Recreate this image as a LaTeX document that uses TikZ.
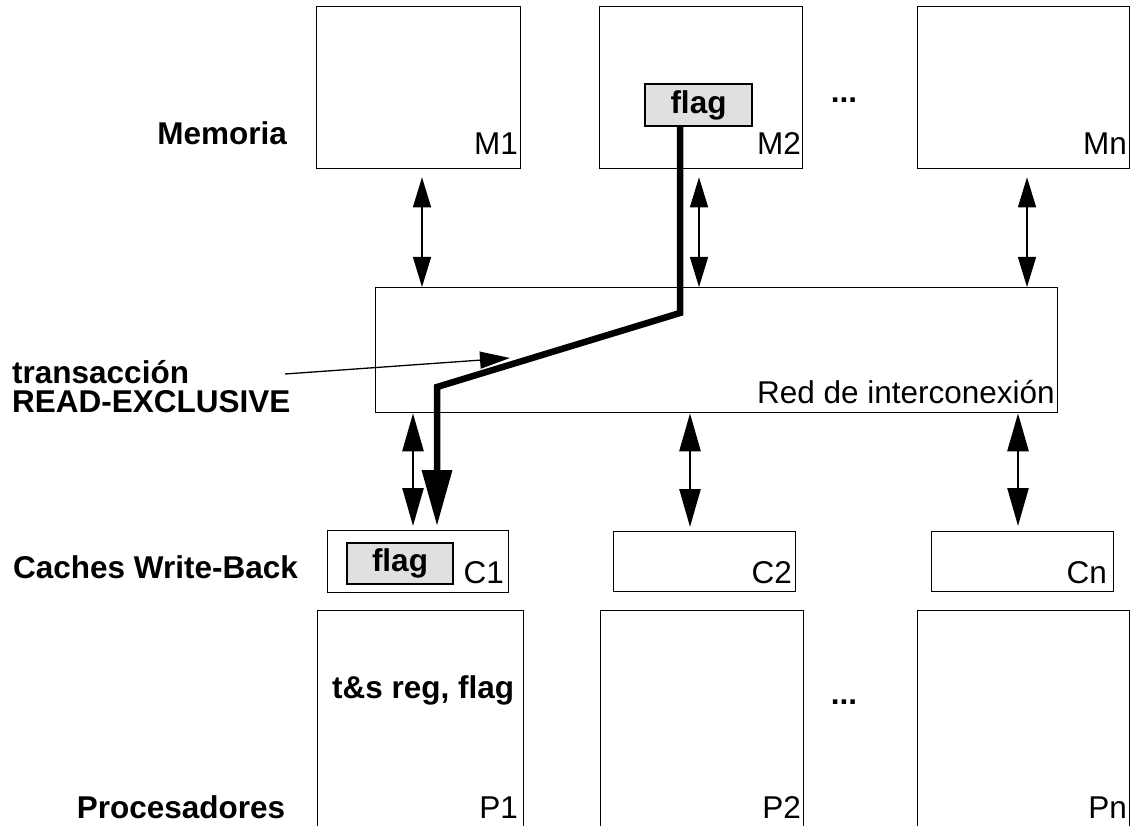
\documentclass[tikz,border=0pt]{standalone}
\usepackage{fontspec}
\setmainfont{Liberation Sans}
\usetikzlibrary{arrows.meta}
\begin{document}
\begin{tikzpicture}[x=1pt,y=-1pt,
  box/.style={draw, line width=1.3pt, inner sep=0pt, anchor=north west},
  flagbox/.style={draw, line width=1.3pt, fill=black!12, inner sep=0pt, font=\fontsize{31.5}{31.5}\selectfont\bfseries},
  lab/.style={font=\fontsize{31.5}{31.5}\selectfont, inner sep=0pt, anchor=base east},
  blab/.style={font=\fontsize{31.5}{31.5}\selectfont\bfseries, inner sep=0pt},
  thinarr/.style={line width=1.3pt, {Triangle[length=30pt,width=18pt]}-{Triangle[length=30pt,width=18pt]}},
  medarr/.style={line width=2.6pt, {Triangle[length=38pt,width=21pt]}-{Triangle[length=38pt,width=21pt]}},
  bigarr/.style={line width=6.5pt, miter limit=10, -{Triangle[length=56pt,width=29pt]}},
]
\useasboundingbox (0,0) rectangle (1130,826);
\clip (0,0) rectangle (1130,826);

% memory modules
\node[box, minimum width=204pt, minimum height=162pt] (M1) at (316,6) {};
\node[box, minimum width=203pt, minimum height=162pt] (M2) at (599,6) {};
\node[box, minimum width=212pt, minimum height=162pt] (Mn) at (917,6) {};
\node[lab] (M1l) at (518,155) {M1};
\node[lab] (M2l) at (801,155) {M2};
\node[lab] (Mnl) at (1127,155) {Mn};
\node[flagbox, minimum width=107pt, minimum height=42pt] (flagM) at (698.5,105) {flag};
\node[blab, anchor=base] (dots1) at (844,103) {...};

% interconnection network
\node[box, minimum width=682pt, minimum height=125pt] (red) at (375,287) {};
\node[lab] (redl) at (1055,403) {Red de interconexión};

% caches
\node[box, minimum width=181pt, minimum height=62pt] (C1) at (327,530) {};
\node[box, minimum width=182pt, minimum height=60pt] (C2) at (613,531) {};
\node[box, minimum width=182pt, minimum height=60pt] (Cn) at (931,531) {};
\node[lab] (C1l) at (504,583) {C1};
\node[lab] (C2l) at (792,583) {C2};
\node[lab] (Cnl) at (1107,583) {Cn};
\node[flagbox, minimum width=106pt, minimum height=41pt] (flagC) at (400,563.5) {flag};

% processors
\node[box, minimum width=206pt, minimum height=260pt] (P1) at (317,610) {};
\node[box, minimum width=203pt, minimum height=260pt] (P2) at (600,610) {};
\node[box, minimum width=212pt, minimum height=260pt] (Pn) at (917,610) {};
\node[lab] (P1l) at (518,818) {P1};
\node[lab] (P2l) at (801,818) {P2};
\node[lab] (Pnl) at (1127,818) {Pn};
\node[blab, anchor=base west] (tsreg) at (332,698) {t\&s reg, flag};
\node[blab, anchor=base] (dots2) at (844,704) {...};

% left labels
\node[blab, anchor=base east] (memoria) at (287,145) {Memoria};
\node[blab, anchor=base west] (trans1) at (12,383) {transacción};
\node[blab, anchor=base west] (trans2) at (12,412) {READ-EXCLUSIVE};
\node[blab, anchor=base west] (caches) at (13,578) {Caches Write-Back};
\node[blab, anchor=base] (procs) at (181,818) {Procesadores};

% memory <-> network arrows
\draw[thinarr] ([yshift=-8pt]M1.south -| 422,0) -- (red.north -| 422,0);
\draw[thinarr] ([yshift=-8pt]M2.south -| 699,0) -- (red.north -| 699,0);
\draw[thinarr] ([yshift=-8pt]Mn.south -| 1027,0) -- (red.north -| 1027,0);

% network <-> cache arrows
\draw[medarr] (red.south -| 413,0) -- ([yshift=4pt]C1.north -| 413,0);
\draw[medarr] (red.south -| 690,0) -- ([yshift=4pt]C2.north -| 690,0);
\draw[medarr] (red.south -| 1018,0) -- ([yshift=5pt]Cn.north -| 1018,0);

% READ-EXCLUSIVE transaction path
\draw[bigarr] (flagM.south -| 680,0) -- (680,313) -- (437,387) -- ([yshift=4pt]C1.north -| 437,0);

% pointer from label
\coordinate (tstart) at (285,374);
\coordinate (tend) at (510,358);
\draw[line width=1.3pt, -{Triangle[length=30pt,width=17pt]}] (tstart) -- (tend);
\end{tikzpicture}
\end{document}
